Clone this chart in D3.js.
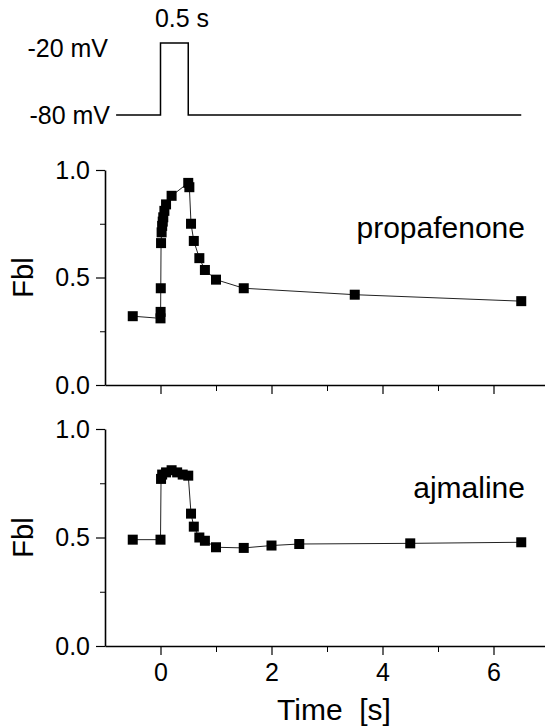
<!DOCTYPE html>
<html><head><meta charset="utf-8">
<script src="https://cdn.jsdelivr.net/npm/d3@7"></script>
<style>body{margin:0;background:#fff}svg{display:block}text{font-family:"Liberation Sans",Arial,sans-serif;fill:#000}</style>
</head><body>
<script>
// ---- data ----
const protoT = [-0.8, 0, 0, 0.5, 0.5, 6.5];
const protoV = [-80, -80, -20, -20, -80, -80];
const protoLabels = ["-20 mV", "-80 mV"];
const protoLevels = [-20, -80];

const propT = [-0.5, 0, 0.002, 0.005, 0.01, 0.02, 0.03, 0.04, 0.05, 0.07, 0.1, 0.2, 0.5, 0.52, 0.55, 0.6, 0.7, 0.8, 1.0, 1.5, 3.5, 6.5];
const propV = [0.32, 0.31, 0.34, 0.45, 0.66, 0.71, 0.74, 0.76, 0.78, 0.81, 0.84, 0.88, 0.94, 0.92, 0.75, 0.67, 0.59, 0.535, 0.49, 0.45, 0.42, 0.39];

const ajT = [-0.5, 0, 0.01, 0.03, 0.1, 0.2, 0.3, 0.4, 0.5, 0.55, 0.6, 0.7, 0.8, 1.0, 1.5, 2.0, 2.5, 4.5, 6.5];
const ajV = [0.49, 0.49, 0.77, 0.79, 0.80, 0.81, 0.80, 0.79, 0.785, 0.61, 0.55, 0.50, 0.485, 0.455, 0.452, 0.463, 0.47, 0.473, 0.478];

const xMajor = [0, 2, 4, 6];
const xMinor = [1, 3, 5];
const yMajor = [0, 0.5, 1.0];
const yMinor = [0.25, 0.75];

// ---- layout ----
const W = 545, H = 728;
const svg = d3.select("body").append("svg").attr("width", W).attr("height", H);

const x = d3.scaleLinear().domain([-1, 7]).range([105, 549]);

// protocol
const yP = d3.scaleLinear().domain([-80, -20]).range([115, 43]);
svg.append("path")
  .attr("d", d3.line().x((d,i)=>x(protoT[i])).y((d,i)=>yP(protoV[i]))(protoT))
  .attr("fill","none").attr("stroke","#000").attr("stroke-width",1.5);
svg.selectAll(".plab").data(protoLabels).enter().append("text")
  .attr("x", (d,i)=> i===0 ? 108 : 110)
  .attr("y", (d,i)=> yP(protoLevels[i]) + (i===0 ? 14 : 9))
  .attr("text-anchor","end").attr("font-size",25).text(d=>d);
svg.append("text").attr("x", 182).attr("y", 27).attr("text-anchor","middle")
  .attr("font-size",25).text("0.5 s");

function panel(top, bottom, T, V, name, showX) {
  const y = d3.scaleLinear().domain([0, 1]).range([bottom, top]);
  const g = svg.append("g");
  // x axis
  const ax = d3.axisBottom(x).tickValues(xMajor).tickSize(9).tickSizeOuter(0)
     .tickFormat(showX ? d3.format("d") : "");
  const gx = g.append("g").attr("transform",`translate(0,${bottom})`).call(ax);
  gx.select(".domain").attr("stroke-width",1.6);
  gx.selectAll(".tick line").attr("stroke-width",1.2);
  gx.selectAll(".tick text").attr("font-size",25).attr("font-family","Liberation Sans, Arial, sans-serif").attr("dy","0.92em").attr("fill","#000");
  g.append("g").attr("transform",`translate(0,${bottom})`)
    .call(d3.axisBottom(x).tickValues(xMinor).tickSize(6).tickFormat("").tickSizeOuter(0))
    .call(s=>s.select(".domain").remove());
  // y axis
  const gy = g.append("g").attr("transform",`translate(${x(-1)},0)`)
    .call(d3.axisLeft(y).tickValues(yMajor).tickSize(9).tickSizeOuter(0).tickPadding(6).tickFormat(d3.format(".1f")));
  gy.select(".domain").attr("stroke-width",1.6);
  gy.selectAll(".tick line").attr("stroke-width",1.2);
  gy.selectAll(".tick text").attr("font-size",25).attr("font-family","Liberation Sans, Arial, sans-serif").attr("fill","#000");
  g.append("g").attr("transform",`translate(${x(-1)},0)`)
    .call(d3.axisLeft(y).tickValues(yMinor).tickSize(5).tickFormat("").tickSizeOuter(0))
    .call(s=>s.select(".domain").remove());
  // y label
  g.append("text").attr("transform",`translate(33,${y(0.5)}) rotate(-90)`)
    .attr("text-anchor","middle").attr("font-size",29).text("Fbl");
  // line
  g.append("path")
    .attr("d", d3.line().x((d,i)=>x(T[i])).y((d,i)=>y(V[i]))(T))
    .attr("fill","none").attr("stroke","#222").attr("stroke-width",1);
  // markers
  g.selectAll("rect.m").data(T).enter().append("rect")
    .attr("x",(d,i)=>x(T[i])-5).attr("y",(d,i)=>y(V[i])-5)
    .attr("width",10).attr("height",10).attr("fill","#000");
  // name
  g.append("text").attr("x",525).attr("y", y(0.5)-40).attr("text-anchor","end")
    .attr("font-size",30).text(name);
}
panel(170, 385, propT, propV, "propafenone", false);
panel(429, 646, ajT, ajV, "ajmaline", true);

svg.append("text").attr("x",334).attr("y",720).attr("text-anchor","middle")
  .attr("font-size",30).style("white-space","pre").text("Time  [s]");
</script>
</body></html>
